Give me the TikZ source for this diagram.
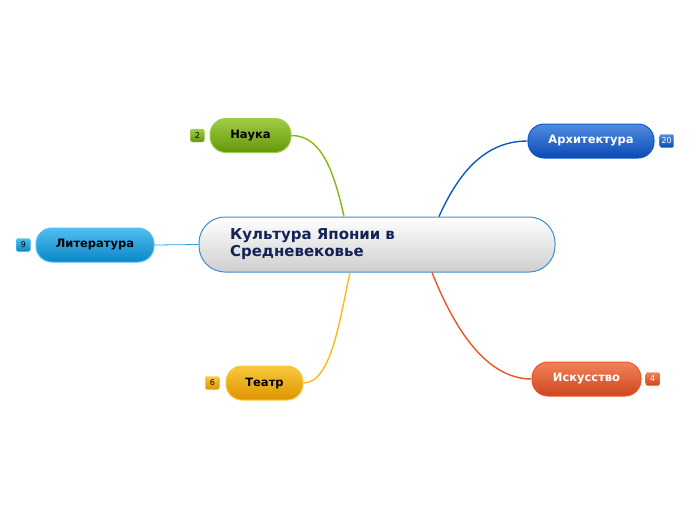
\documentclass[tikz,border=0pt]{standalone}
\usepackage{fontspec}
\setmainfont{DejaVu Sans}
\usepackage{xcolor}
\usepackage{tikz}
\usetikzlibrary{positioning}

\definecolor{centreline}{RGB}{61,143,208}
\definecolor{centretext}{RGB}{20,35,85}
\definecolor{naukatop}{RGB}{160,205,70}
\definecolor{naukabot}{RGB}{100,150,10}
\definecolor{naukaline}{RGB}{130,185,20}
\definecolor{archtop}{RGB}{80,140,225}
\definecolor{archbot}{RGB}{10,75,180}
\definecolor{archline}{RGB}{10,90,200}
\definecolor{littop}{RGB}{80,190,240}
\definecolor{litbot}{RGB}{10,135,200}
\definecolor{litline}{RGB}{50,160,220}
\definecolor{teatrtop}{RGB}{250,200,60}
\definecolor{teatrbot}{RGB}{222,148,0}
\definecolor{teatrline}{RGB}{255,185,20}
\definecolor{isktop}{RGB}{242,130,90}
\definecolor{iskbot}{RGB}{205,70,30}
\definecolor{iskline}{RGB}{240,85,40}

\begin{document}
\begin{tikzpicture}[x=1pt, y=-1pt]
        % Styles for topics, counters and branches
        \tikzstyle{topic} = [rectangle, draw, rounded corners=16pt, minimum height=34pt,
                             inner sep=0pt, line width=1pt, font=\fontsize{11.5}{13}\selectfont\bfseries]
        \tikzstyle{badge} = [rectangle, draw, rounded corners=2pt, minimum width=14pt,
                             minimum height=13pt, inner sep=1.5pt, font=\fontsize{8}{9}\selectfont]
        \tikzstyle{branch} = [line width=1.4pt]

        \useasboundingbox (0,0) rectangle (696,520);

        % Central topic
        \node (culture) [topic, rounded corners=26pt, minimum width=356pt, minimum height=55pt,
                         text width=294pt, inner xsep=31pt, align=left, draw=centreline,
                         top color=white, bottom color=gray!38, text=centretext,
                         font=\fontsize{15}{17}\selectfont\bfseries]
              at (377,244.5) {Культура Японии в\\Средневековье};

        % Main topics
        \node (nauka) [topic, minimum width=81pt, draw=naukatop, top color=naukatop, bottom color=naukabot]
              at (250.5,135.5) {Наука};
        \node (arch) [topic, minimum width=126pt, draw=archline, top color=archtop, bottom color=archbot, text=white]
              at (591,141) {Архитектура};
        \node (lit) [topic, minimum width=118pt, draw=littop, top color=littop, bottom color=litbot]
              at (95,245) {Литература};
        \node (teatr) [topic, minimum width=77pt, draw=teatrtop, top color=teatrtop, bottom color=teatrbot]
              at (264.5,383) {Театр};
        \node (isk) [topic, minimum width=109pt, draw=iskline, top color=isktop, bottom color=iskbot, text=white]
              at (586.5,379) {Искусство};

        % Counters
        \node (naukanum) [badge, left=5pt of nauka, draw=naukatop, top color=naukatop, bottom color=naukabot] {2};
        \node (archnum) [badge, right=5pt of arch, draw=archtop, top color=archtop, bottom color=archbot, text=white] {20};
        \node (litnum) [badge, left=5pt of lit, draw=littop, top color=littop, bottom color=litbot] {9};
        \node (teatrnum) [badge, left=6pt of teatr, draw=teatrtop, top color=teatrtop, bottom color=teatrbot] {6};
        \node (isknum) [badge, right=4pt of isk, draw=isktop, top color=isktop, bottom color=iskbot, text=white] {4};

        % Branches
        \draw [branch, naukaline] (nauka.east) .. controls +(30,0) and +(-10,-45) .. ([xshift=-33pt]culture.north);
        \draw [branch, archline] ([xshift=62pt]culture.north) .. controls +(18,-40) and +(-45,0) .. (arch.west);
        \draw [litline, line width=0.8pt] (lit.east) -- (culture.west);
        \draw [branch, teatrline] ([xshift=-27pt]culture.south) .. controls +(-10,45) and +(28,0) .. (teatr.east);
        \draw [branch, iskline] ([xshift=55pt]culture.south) .. controls +(18,45) and +(-50,0) .. (isk.west);
    \end{tikzpicture}
\end{document}
